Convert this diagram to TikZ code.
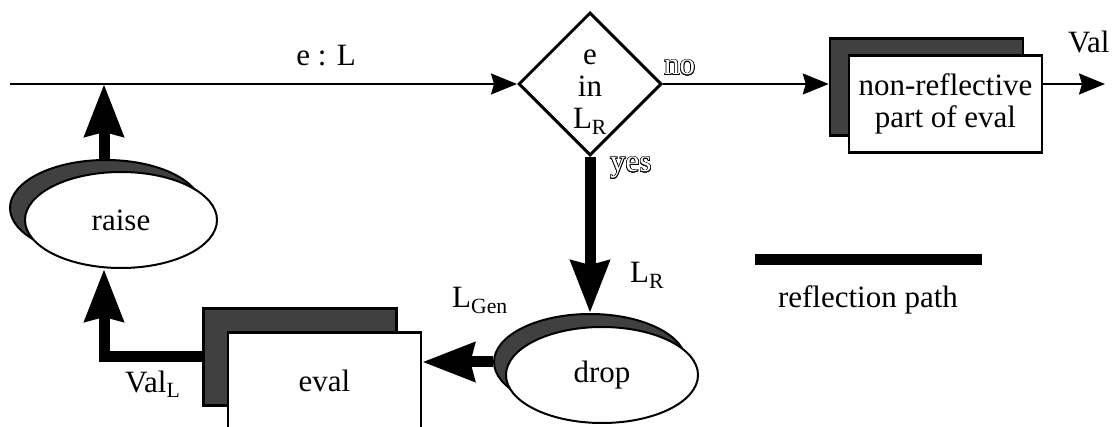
\documentclass[tikz,border=0pt]{standalone}
\usepackage{fontspec}
\setmainfont{Liberation Serif}
\usepackage{contour}
\usetikzlibrary{arrows.meta,shapes.geometric}
\definecolor{shade}{RGB}{64,64,64}
\contourlength{0.7pt}
% outlined lettering for the branch labels
\newcommand{\hollow}[1]{\contour{black}{\textcolor{white}{#1}}}
\begin{document}
\begin{tikzpicture}[x=1pt,y=-1pt,
  every node/.append style={font=\fontsize{31}{32}\selectfont},
  thinarrow/.style={line width=2pt,-{Stealth[length=26pt,width=21pt,inset=3pt]}},
  thickarrow/.style={line width=11pt,-{Stealth[length=52pt,width=38pt,inset=4pt]}},
  backbox/.style={draw,line width=2.5pt,fill=shade,minimum width=193pt,minimum height=97pt,inner sep=0pt},
  frontbox/.style={backbox,fill=white,align=center},
  backoval/.style={ellipse,draw,line width=2pt,fill=shade,minimum width=192pt,minimum height=96pt,inner sep=0pt},
  frontoval/.style={backoval,fill=white},
  decision/.style={diamond,draw,line width=3pt,fill=white,minimum width=143pt,minimum height=143pt,inner sep=0pt,aspect=1},
  lbl/.style={inner sep=0pt,anchor=base west},
  lblc/.style={inner sep=0pt,anchor=base}]
\useasboundingbox (0,0) rectangle (1119,427);
\clip (0,0) rectangle (1119,427);

% decision diamond
\node[decision] (dia) at (590,84) {};
\node[inner sep=0pt,align=center] (diaText) at (590,92) {e\\in\\L\textsubscript{R}};

% non-reflective evaluator
\node[backbox] (nrS) at (926.5,87) {};
\node[frontbox] (nrW) at (945.5,104) {non-reflective\\part of eval};

% reflective evaluator
\node[backbox] (evalS) at (300,357) {};
\node[frontbox] (evalW) at (324.5,381) {eval};

% raise and drop
\node[backoval] (raiseS) at (106,208) {};
\node[frontoval] (raiseW) at (121,220) {raise};
\node[backoval] (dropS) at (590,362) {};
\node[frontoval] (dropW) at (602,375) {drop};

% main input line
\coordinate (start) at (10,84);
\coordinate (join) at (104,84);
\coordinate (valEnd) at (1105,84);
\draw[thinarrow] (start) -- (dia.west);
\draw[thinarrow] (dia.east) -- (dia.east -| nrS.west);
\draw[thinarrow] (nrW.east |- dia.east) -- (valEnd);

% reflection path
\draw[thickarrow] (dia.south) -- (dropS.north);
\draw[thickarrow] (dropS.west) -- (dropS.west -| evalW.east);
\draw[thickarrow] (evalS.west) -| ([xshift=-2pt,yshift=-12pt]raiseS.south);
\draw[thickarrow] ([xshift=-2pt]raiseS.north) -- (join);

% labels
\node[lblc] (eL) at (326,66) {e : L};
\node[lbl] (noL) at (664,75) {\hollow{no}};
\node[lbl] (yesL) at (610,172) {\hollow{yes}};
\node[lbl] (lrL) at (630,283) {L\textsubscript{R}};
\node[lbl] (lgenL) at (452,308) {L\textsubscript{Gen}};
\node[lbl] (valLL) at (125,392) {Val\textsubscript{L}};
\node[lbl] (valL) at (1068,53) {Val};

% legend
\coordinate (legA) at (755,259.5);
\coordinate (legB) at (982,259.5);
\draw[line width=11pt] (legA) -- (legB);
\node[lblc] (legT) at (868,308) {reflection path};
\end{tikzpicture}
\end{document}
